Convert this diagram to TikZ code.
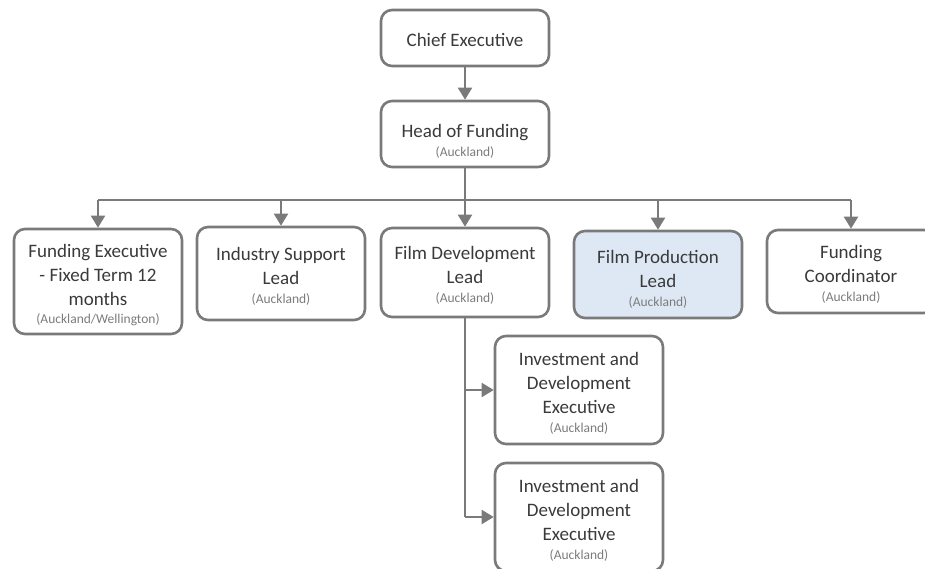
\documentclass[tikz,border=0pt]{standalone}
\usepackage{fontspec}
\setmainfont{Carlito}
\usetikzlibrary{arrows.meta}
\definecolor{edge}{HTML}{7A7A7A}
\definecolor{txt}{HTML}{3A3A3A}
\definecolor{sub}{HTML}{7C7C7C}
\definecolor{hl}{HTML}{DEE8F4}
\newcommand{\subl}[1]{{\fontsize{13.5}{14}\selectfont\color{sub}#1}}
\newcommand{\dn}[2]{\raisebox{0pt}[\dimexpr\height+#1\relax]{#2}}
\begin{document}
\begin{tikzpicture}[x=1pt,y=-1pt,
  role/.style={draw=edge,line width=2.6pt,rounded corners=11pt,fill=white,
    text=txt,align=center,inner sep=0pt,minimum width=168pt,
    font=\fontsize{19}{24}\selectfont},
  conn/.style={draw=edge,line width=2pt},
  arr/.style={conn,-{Triangle[width=14pt,length=12pt]}}]
\useasboundingbox (0,0) rectangle (925,569);
\node[role,minimum height=56pt] (ce) at (465,38) {\dn{3pt}{Chief Executive}};
\node[role,minimum height=66pt] (hf) at (465,134) {\dn{14pt}{Head of Funding}\\[-5pt]\subl{(Auckland)}};
\node[role,minimum height=105pt] (fe) at (98,281.5) {\dn{7pt}{Funding Executive}\\- Fixed Term 12\\months\\[-6pt]\subl{(Auckland/Wellington)}};
\node[role,minimum height=93pt] (is) at (281,273.5) {\dn{5pt}{Industry Support}\\Lead\\[-5pt]\subl{(Auckland)}};
\node[role,minimum height=89pt] (fd) at (465,272.5) {\dn{5pt}{Film Development}\\Lead\\[-5pt]\subl{(Auckland)}};
\node[role,minimum height=87pt,fill=hl] (fp) at (658,274.5) {\dn{9pt}{Film Production}\\Lead\\[-5pt]\subl{(Auckland)}};
\node[role,minimum height=83pt] (fc) at (851,271.5) {\dn{6pt}{Funding}\\Coordinator\\[-5pt]\subl{(Auckland)}};
\node[role,minimum height=108pt] (ide1) at (579,390) {\dn{6pt}{Investment and}\\Development\\Executive\\[-5pt]\subl{(Auckland)}};
\node[role,minimum height=108pt] (ide2) at (579,517) {\dn{6pt}{Investment and}\\Development\\Executive\\[-5pt]\subl{(Auckland)}};
\coordinate (bus) at (465,200);
\draw[arr] (ce) -- (hf);
\draw[conn] (hf.south) -- (bus);
\draw[conn] (bus -| fe) -- (bus -| fc);
\foreach \n in {fe,is,fd,fp,fc} \draw[arr] (bus -| \n) -- (\n.north);
\coordinate (br) at (fd.south |- ide2);
\draw[conn] (fd.south) -- (br);
\draw[arr] (fd.south |- ide1) -- (ide1.west);
\draw[arr] (br) -- (ide2.west);
\end{tikzpicture}
\end{document}
